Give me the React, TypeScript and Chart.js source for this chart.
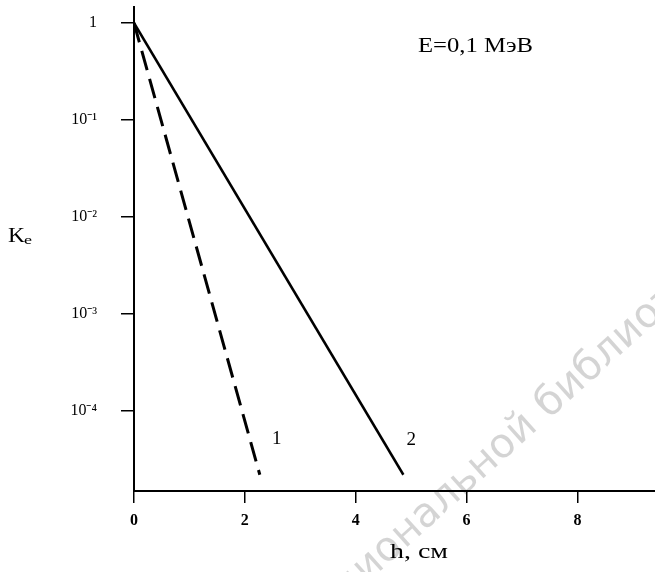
import React, { useEffect, useRef } from "react";
import { Chart, registerables } from "chart.js";

Chart.register(...registerables);

// Data
const curve1H = [0, 2.27];
const curve1K = [1, 2.2e-5];
const curve2H = [0, 4.86];
const curve2K = [1, 2.2e-5];
const curveNames = ["1", "2"];
const xTicks = [0, 2, 4, 6, 8];
const yTicks = [1e-4, 1e-3, 1e-2, 1e-1, 1];
const yTickLabels = ["10⁻⁴", "10⁻³", "10⁻²", "10⁻¹", "1"];
const energyLabel = "E=0,1 МэВ";
const xTitle = "h, см";
const yTitleMain = "K";
const yTitleSub = "e";
const watermarkPre = "наци";
const watermark = "национальной библиотеки";

const SERIF = "'Liberation Serif', 'Times New Roman', serif";

function drawWide(ctx: CanvasRenderingContext2D, text: string, left: number, y: number, font: string, width: number) {
  ctx.save();
  ctx.font = font;
  ctx.textAlign = "left";
  ctx.textBaseline = "middle";
  const w = ctx.measureText(text).width;
  ctx.translate(left, y);
  ctx.scale(width / w, 1);
  ctx.fillText(text, 0, 0);
  ctx.restore();
}

export default function App() {
  const ref = useRef<HTMLCanvasElement | null>(null);
  useEffect(() => {
    document.body.style.margin = "0";
    const canvas = ref.current!;
    const overlay = {
      id: "overlay",
      afterDraw(chart: any) {
        const ctx = chart.ctx;
        const xs = chart.scales.x;
        const ys = chart.scales.y;
        ctx.save();
        ctx.fillStyle = "#000";
        ctx.textBaseline = "middle";
        // curve labels near line ends
        ctx.font = `19px ${SERIF}`;
        ctx.textAlign = "center";
        const ends = [
          [curve1H[1], curve1K[1]],
          [curve2H[1], curve2K[1]],
        ];
        const offs = [
          [17, -36],
          [8, -35],
        ];
        ends.forEach((e, i) => {
          const px = xs.getPixelForValue(e[0]);
          const py = ys.getPixelForValue(e[1]);
          ctx.fillText(curveNames[i], px + offs[i][0], py + offs[i][1]);
        });
        // energy label
        drawWide(ctx, energyLabel, 418, 47, `20px ${SERIF}`, 115);
        // axis titles
        drawWide(ctx, xTitle, 390, 553, `20px ${SERIF}`, 58);
        drawWide(ctx, yTitleMain, 8, 236, `22px ${SERIF}`, 17);
        drawWide(ctx, yTitleSub, 24, 241, `13px ${SERIF}`, 8);
        // watermark
        ctx.translate(386, 566);
        ctx.rotate((-42 * Math.PI) / 180);
        ctx.font = `41px 'DejaVu Sans', sans-serif`;
        ctx.fillStyle = "rgba(0,0,0,0.17)";
        ctx.textAlign = "left";
        ctx.textBaseline = "alphabetic";
        const pre = ctx.measureText(watermarkPre).width;
        ctx.fillText(watermark, -pre, 0);
        ctx.restore();
      },
    };
    const chart = new Chart(canvas, {
      type: "line",
      data: {
        datasets: [
          {
            label: "1",
            data: curve1H.map((h, i) => ({ x: h, y: curve1K[i] })),
            borderColor: "#000",
            borderWidth: 3,
            borderDash: [20, 9],
            pointRadius: 0,
            fill: false,
          },
          {
            label: "2",
            data: curve2H.map((h, i) => ({ x: h, y: curve2K[i] })),
            borderColor: "#000",
            borderWidth: 2.5,
            pointRadius: 0,
            fill: false,
          },
        ],
      },
      options: {
        responsive: false,
        animation: false,
        layout: { padding: { top: 7, right: 0, left: 0, bottom: 0 } },
        plugins: { legend: { display: false }, tooltip: { enabled: false } },
        scales: {
          x: {
            type: "linear",
            min: 0,
            max: 9.4,
            afterBuildTicks: (s: any) => {
              s.ticks = xTicks.map((v) => ({ value: v }));
            },
            afterFit: (s: any) => {
              s.height = 81;
              s.paddingLeft = 0;
              s.paddingRight = 0;
            },
            border: { color: "#000", width: 2 },
            grid: { drawOnChartArea: false, drawTicks: true, tickLength: 12, color: "#000", lineWidth: 1.5 },
            ticks: {
              color: "#000",
              padding: 8,
              maxRotation: 0,
              font: { family: SERIF, size: 16, weight: "bold" },
              callback: (v: any) => String(v),
            },
          },
          y: {
            type: "logarithmic",
            min: Math.pow(10, -4.825),
            max: Math.pow(10, 0.165),
            afterBuildTicks: (s: any) => {
              s.ticks = yTicks.map((v) => ({ value: v }));
            },
            afterFit: (s: any) => {
              s.width = 134;
              s.paddingTop = 0;
              s.paddingBottom = 0;
            },
            border: { color: "#000", width: 2 },
            grid: { drawOnChartArea: false, drawTicks: true, tickLength: 13, color: "#000", lineWidth: 1.5 },
            ticks: {
              color: "#000",
              padding: 24,
              font: { family: SERIF, size: 16 },
              callback: (v: any) => {
                const idx = yTicks.findIndex((t) => Math.abs(Math.log10(t) - Math.log10(v)) < 1e-6);
                return idx >= 0 ? yTickLabels[idx] : "";
              },
            },
          },
        },
      },
      plugins: [overlay],
    } as any);
    return () => chart.destroy();
  }, []);
  return <canvas ref={ref} width={655} height={572} style={{ display: "block" }} />;
}
